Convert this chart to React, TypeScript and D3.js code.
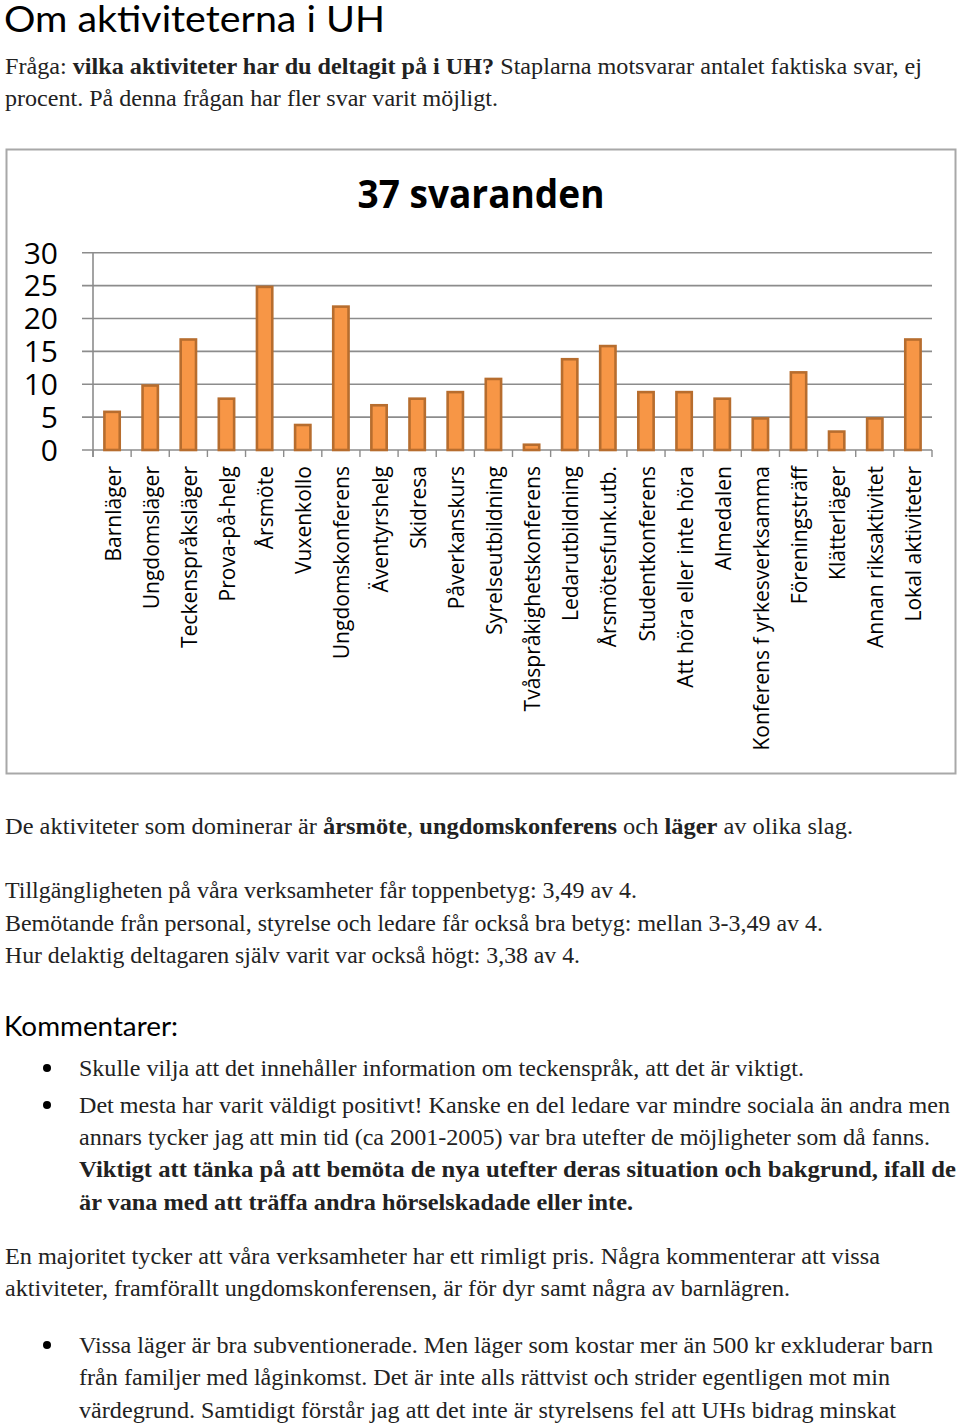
import React from "react";
import * as d3 from "d3";

const categories = [
  "Barnläger",
  "Ungdomsläger",
  "Teckenspråksläger",
  "Prova-på-helg",
  "Årsmöte",
  "Vuxenkollo",
  "Ungdomskonferens",
  "Äventyrshelg",
  "Skidresa",
  "Påverkanskurs",
  "Syrelseutbildning",
  "Tvåspråkighetskonferens",
  "Ledarutbildning",
  "Årsmötesfunk.utb.",
  "Studentkonferens",
  "Att höra eller inte höra",
  "Almedalen",
  "Konferens f yrkesverksamma",
  "Föreningsträff",
  "Klätterläger",
  "Annan riksaktivitet",
  "Lokal aktiviteter",
];
const values = [6, 10, 17, 8, 25, 4, 22, 7, 8, 9, 11, 1, 14, 16, 9, 9, 8, 5, 12, 3, 5, 17];
const yTicks = [0, 5, 10, 15, 20, 25, 30];
const chartTitle = "37 svaranden";

const pageTitle = "Om aktiviteterna i UH";
const commentsHeading = "Kommentarer:";

type Seg = [string, boolean];
const introLines: Seg[][] = [
  [["Fråga: ", false], ["vilka aktiviteter har du deltagit på i UH?", true], [" Staplarna motsvarar antalet faktiska svar, ej", false]],
  [["procent. På denna frågan har fler svar varit möjligt.", false]],
];
const summaryLines: Seg[][] = [
  [["De aktiviteter som dominerar är ", false], ["årsmöte", true], [", ", false], ["ungdomskonferens", true], [" och ", false], ["läger", true], [" av olika slag.", false]],
  [["Tillgängligheten på våra verksamheter får toppenbetyg: 3,49 av 4.", false]],
  [["Bemötande från personal, styrelse och ledare får också bra betyg: mellan 3-3,49 av 4.", false]],
  [["Hur delaktig deltagaren själv varit var också högt: 3,38 av 4.", false]],
];
const commentLines: Seg[][] = [
  [["Skulle vilja att det innehåller information om teckenspråk, att det är viktigt.", false]],
  [["Det mesta har varit väldigt positivt! Kanske en del ledare var mindre sociala än andra men", false]],
  [["annars tycker jag att min tid (ca 2001-2005) var bra utefter de möjligheter som då fanns.", false]],
  [["Viktigt att tänka på att bemöta de nya utefter deras situation och bakgrund, ifall de", true]],
  [["är vana med att träffa andra hörselskadade eller inte.", true]],
];
const priceLines: Seg[][] = [
  [["En majoritet tycker att våra verksamheter har ett rimligt pris. Några kommenterar att vissa", false]],
  [["aktiviteter, framförallt ungdomskonferensen, är för dyr samt några av barnlägren.", false]],
];
const priceCommentLines: Seg[][] = [
  [["Vissa läger är bra subventionerade. Men läger som kostar mer än 500 kr exkluderar barn", false]],
  [["från familjer med låginkomst. Det är inte alls rättvist och strider egentligen mot min", false]],
  [["värdegrund. Samtidigt förstår jag att det inte är styrelsens fel att UHs bidrag minskat", false]],
];

const SERIF = "'Liberation Serif', 'DejaVu Serif', serif";
const SANS = "'Open Sans', 'Noto Sans', sans-serif";
const GILL = "Lato, 'Open Sans', sans-serif";

function Line({ x, y, segs, w }: { x: number; y: number; segs: Seg[]; w: number }) {
  return (
    <text
      x={x}
      y={y}
      fontFamily={SERIF}
      fontSize={23}
      fill="#222"
      textLength={w}
      lengthAdjust="spacingAndGlyphs"
      style={{ whiteSpace: "pre" }}
    >
      {segs.map((s, i) => (
        <tspan key={i} fontWeight={s[1] ? "bold" : "normal"}>
          {s[0]}
        </tspan>
      ))}
    </text>
  );
}

export default function App() {
  const W = 960;
  const H = 1426;
  const left = 93;
  const right = 932;
  const y0 = 450;
  const y30 = 252.7;

  const xb = d3.scaleBand<string>().domain(categories).range([left, right]).padding(0);
  const x = d3
    .scaleBand<string>()
    .domain(categories)
    .range([left, right])
    .paddingInner(0.53)
    .paddingOuter(0.265);
  const y = d3.scaleLinear().domain([0, 30]).range([y0, y30]);

  const sw = 2.6;

  const introY = [74, 106];
  const introW = [917, 493];
  const summaryY = [834, 898, 931, 963];
  const summaryW = [848, 632, 818, 575];
  const commentY = [1076, 1113, 1145, 1177, 1210];
  const commentW = [725, 871, 851, 877, 554];
  const commentBullet = [true, true, false, false, false];
  const priceY = [1264, 1296];
  const priceW = [875, 785];
  const priceCY = [1353, 1385, 1418];
  const priceCW = [854, 811, 817];
  const priceBullet = [true, false, false];

  return (
    <svg
      width={W}
      height={H}
      viewBox={`0 0 ${W} ${H}`}
      style={{ position: "absolute", left: 0, top: 0, background: "#fff" }}
    >
      <rect x={0} y={0} width={W} height={H} fill="#fff" />
      <text x={4} y={32} fontFamily={GILL} fontSize={36} fill="#000" textLength={381} lengthAdjust="spacingAndGlyphs">
        {pageTitle}
      </text>
      {introLines.map((segs, i) => (
        <Line key={"i" + i} x={5} y={introY[i]} segs={segs} w={introW[i]} />
      ))}

      {/* chart frame */}
      <rect x={6.5} y={149.5} width={949} height={624} fill="#fff" stroke="#a8a8a8" strokeWidth={2} />
      <text
        x={481}
        y={208}
        textAnchor="middle"
        fontFamily={SANS}
        fontWeight="bold"
        fontSize={40}
        fill="#000"
        textLength={247}
        lengthAdjust="spacingAndGlyphs"
      >
        {chartTitle}
      </text>

      {/* gridlines */}
      {yTicks.map((t) => (
        <line key={"g" + t} x1={82} x2={right} y1={y(t)} y2={y(t)} stroke="#8c8c8c" strokeWidth={1.6} />
      ))}
      {/* y axis */}
      <line x1={left} x2={left} y1={y(30)} y2={y0 + 7} stroke="#8c8c8c" strokeWidth={1.6} />
      {/* x ticks */}
      {categories.map((c) => (
        <line key={"t" + c} x1={xb(c)!} x2={xb(c)!} y1={y0} y2={y0 + 7} stroke="#8c8c8c" strokeWidth={1.4} />
      ))}
      <line x1={right} x2={right} y1={y0} y2={y0 + 7} stroke="#8c8c8c" strokeWidth={1.4} />

      {/* y tick labels */}
      {yTicks.map((t) => (
        <text
          key={"yl" + t}
          x={58}
          y={y(t)}
          dy="0.36em"
          textAnchor="end"
          fontFamily={SANS}
          fontSize={30}
          fill="#000"
        >
          {t}
        </text>
      ))}

      {/* bars */}
      {categories.map((c, i) => (
        <rect
          key={"b" + c}
          x={x(c)! + sw / 2}
          y={y(values[i]) + sw / 2}
          width={x.bandwidth() - sw}
          height={y0 - y(values[i]) - sw / 2}
          fill="#f79646"
          stroke="#b76d2e"
          strokeWidth={sw}
        />
      ))}

      {/* category labels */}
      {categories.map((c) => {
        const cx = xb(c)! + xb.bandwidth() / 2 + 1;
        return (
          <text
            key={"cl" + c}
            transform={`translate(${cx},466) rotate(-90)`}
            textAnchor="end"
            dy="0.36em"
            fontFamily={SANS}
            fontSize={21}
            fill="#000"
          >
            {c}
          </text>
        );
      })}

      {summaryLines.map((segs, i) => (
        <Line key={"s" + i} x={5} y={summaryY[i]} segs={segs} w={summaryW[i]} />
      ))}

      <text x={4} y={1036} fontFamily={GILL} fontSize={27} fill="#000" textLength={174} lengthAdjust="spacingAndGlyphs">
        {commentsHeading}
      </text>

      {commentLines.map((segs, i) => (
        <g key={"c" + i}>
          {commentBullet[i] && <circle cx={47} cy={commentY[i] - 8} r={4} fill="#000" />}
          <Line x={79} y={commentY[i]} segs={segs} w={commentW[i]} />
        </g>
      ))}

      {priceLines.map((segs, i) => (
        <Line key={"p" + i} x={5} y={priceY[i]} segs={segs} w={priceW[i]} />
      ))}

      {priceCommentLines.map((segs, i) => (
        <g key={"pc" + i}>
          {priceBullet[i] && <circle cx={47} cy={priceCY[i] - 8} r={4} fill="#000" />}
          <Line x={79} y={priceCY[i]} segs={segs} w={priceCW[i]} />
        </g>
      ))}
    </svg>
  );
}
